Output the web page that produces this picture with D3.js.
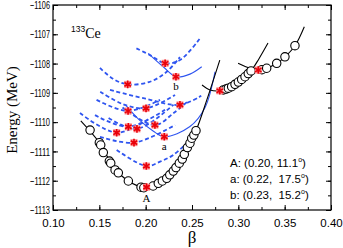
<!DOCTYPE html>
<html>
<head>
<meta charset="utf-8">
<script src="https://cdn.jsdelivr.net/npm/d3@7/dist/d3.min.js"></script>
<style>
  body { margin: 0; background: #fff; }
</style>
</head>
<body>
<div class="chart"></div>
<script>
// chart size
const width = 343;
const height = 248;
const margin = { top: 5, right: 12, bottom: 38, left: 53 };

const xTicks = [0.10, 0.15, 0.20, 0.25, 0.30, 0.35, 0.40];
const yTicks = [-1113, -1112, -1111, -1110, -1109, -1108, -1107, -1106];

// black TAC branches [beta, E]
const branch1Line = [[0.130, -1109.96], [0.150, -1110.70], [0.170, -1111.72], [0.200, -1112.23], [0.225, -1111.86], [0.245, -1110.90], [0.2545, -1110.28], [0.266, -1109.24], [0.280, -1107.88]];
const branch1Pts = [[0.140, -1110.27], [0.150, -1110.70], [0.1515, -1110.78], [0.1543, -1111.04], [0.1608, -1111.33], [0.1623, -1111.40], [0.167, -1111.63], [0.1705, -1111.73], [0.1813, -1112.01], [0.195, -1112.22], [0.198, -1112.24], [0.208, -1112.18], [0.2136, -1112.09], [0.218, -1112.01], [0.2227, -1111.92], [0.226, -1111.80], [0.2298, -1111.67], [0.2327, -1111.55], [0.2363, -1111.40], [0.2395, -1111.26], [0.2417, -1111.10], [0.245, -1110.87], [0.2478, -1110.72], [0.2497, -1110.55], [0.252, -1110.44], [0.2543, -1110.29]];
const branch2Line = [[0.2608, -1108.73], [0.2694, -1108.90], [0.280, -1108.93], [0.2928, -1108.79], [0.3072, -1108.45], [0.3137, -1108.25], [0.322, -1107.85], [0.332, -1107.30]];
const branch2Pts = [[0.2838, -1108.90], [0.2867, -1108.87], [0.2892, -1108.84], [0.2928, -1108.79], [0.2964, -1108.71], [0.300, -1108.63], [0.3036, -1108.54], [0.3072, -1108.45], [0.3107, -1108.34], [0.3137, -1108.25]];
const branch3Line = [[0.2997, -1107.99], [0.3126, -1108.16], [0.3215, -1108.22], [0.3306, -1108.16], [0.3414, -1107.99], [0.3503, -1107.77], [0.3611, -1107.39], [0.3712, -1106.74]];
const branch3Pts = [[0.3255, -1108.21], [0.3306, -1108.16], [0.3414, -1107.99], [0.3503, -1107.77], [0.3611, -1107.39]];

// blue PES curves at fixed gamma [beta, E]
const dashedCurves = [
  [[0.190, -1107.48], [0.2047, -1107.71], [0.221, -1107.99], [0.237, -1107.88], [0.2586, -1107.14]],
  [[0.1507, -1108.15], [0.1647, -1108.52], [0.1806, -1108.71], [0.2047, -1108.62], [0.2227, -1108.28], [0.237, -1107.78]],
  [[0.1615, -1108.90], [0.200, -1109.20], [0.237, -1109.41], [0.260, -1109.10]],
  [[0.151, -1108.96], [0.175, -1109.38], [0.2004, -1109.53], [0.2317, -1109.07]],
  [[0.147, -1109.24], [0.181, -1109.62], [0.2155, -1109.24]],
  [[0.1453, -1109.76], [0.1813, -1110.16], [0.2209, -1109.58]],
  [[0.160, -1109.86], [0.1906, -1110.23], [0.230, -1109.40]],
  [[0.175, -1109.50], [0.210, -1110.10], [0.2298, -1109.70], [0.245, -1109.30]],
  [[0.1291, -1109.69], [0.1687, -1110.36], [0.2047, -1109.86]],
  [[0.1507, -1110.50], [0.1874, -1110.70], [0.2317, -1110.10]],
  [[0.1687, -1110.95], [0.2007, -1111.50], [0.2155, -1111.35], [0.2298, -1111.12], [0.2478, -1110.61]]
];
const solidCurves = [
  [[0.178, -1109.40], [0.194, -1109.95], [0.208, -1110.30], [0.2201, -1110.50], [0.2478, -1110.15], [0.2641, -1109.50], [0.2748, -1108.28]],
  [[0.2028, -1107.65], [0.219, -1108.11], [0.2327, -1108.45], [0.2478, -1108.36], [0.2605, -1108.11]]
];

// minima (red stars)
const minima = [[0.221, -1107.99], [0.2327, -1108.45], [0.1806, -1108.71], [0.237, -1109.41], [0.2004, -1109.53], [0.181, -1109.62], [0.1813, -1110.16], [0.1906, -1110.23], [0.210, -1110.10], [0.1687, -1110.36], [0.1874, -1110.70], [0.2007, -1111.50], [0.2201, -1110.50], [0.201, -1112.22], [0.280, -1108.93], [0.3215, -1108.22]];

const pointNames = ["A", "a", "b"];
const pointPos = [[0.201, -1112.22], [0.2201, -1110.50], [0.2327, -1108.45]];
const legendNames = ["A", "a", "b"];
const legendBeta = ["0.20", "0.22", "0.23"];
const legendGamma = ["11.1", "17.5", "15.2"];

let x, y;

function setup() {
  const svg = d3.select('.chart')
    .append('svg')
    .attr('width', width)
    .attr('height', height)
    .style('display', 'block');

  x = d3.scaleLinear().domain([0.10, 0.40]).range([margin.left, width - margin.right]);
  y = d3.scaleLinear().domain([-1113, -1106]).range([height - margin.bottom, margin.top]);

  drawAxes(svg);
  drawCurves(svg);
  drawTexts(svg);
}

function drawAxes(svg) {
  const xMinor = d3.range(0.10, 0.401, 0.025);
  const yMinor = d3.range(-1113, -1105.9, 0.5);
  const inner = height - margin.bottom - margin.top;
  const innerW = width - margin.left - margin.right;

  svg.append('g')
    .attr('transform', `translate(0, ${height - margin.bottom})`)
    .call(d3.axisBottom(x).tickValues(xMinor).tickSize(-3).tickFormat(''));
  svg.append('g')
    .attr('transform', `translate(0, ${height - margin.bottom})`)
    .call(d3.axisBottom(x).tickValues(xTicks).tickSize(-5).tickPadding(9).tickFormat(d3.format('.2f')));
  svg.append('g')
    .attr('transform', `translate(0, ${margin.top})`)
    .call(d3.axisTop(x).tickValues(xMinor).tickSize(-3).tickFormat(''));
  svg.append('g')
    .attr('transform', `translate(0, ${margin.top})`)
    .call(d3.axisTop(x).tickValues(xTicks).tickSize(-5).tickFormat(''));

  svg.append('g')
    .attr('transform', `translate(${margin.left}, 0)`)
    .call(d3.axisLeft(y).tickValues(yMinor).tickSize(-3).tickFormat(''));
  svg.append('g')
    .attr('class', 'yleft')
    .attr('transform', `translate(${margin.left}, 0)`)
    .call(d3.axisLeft(y).tickValues(yTicks).tickSize(-5).tickPadding(3).tickFormat(d3.format('d')));
  svg.append('g')
    .attr('transform', `translate(${width - margin.right}, 0)`)
    .call(d3.axisRight(y).tickValues(yMinor).tickSize(-3).tickFormat(''));
  svg.append('g')
    .attr('transform', `translate(${width - margin.right}, 0)`)
    .call(d3.axisRight(y).tickValues(yTicks).tickSize(-5).tickFormat(''));

  svg.selectAll('.domain').remove();
  svg.selectAll('.tick line').attr('stroke', '#000').attr('stroke-width', 1);
  svg.selectAll('.tick text')
    .attr('fill', '#000')
    .style('font', '11.5px "Liberation Sans", Arial, sans-serif');
  svg.selectAll('.yleft .tick text')
    .attr('textLength', 20)
    .attr('lengthAdjust', 'spacingAndGlyphs');

  svg.append('rect')
    .attr('x', margin.left)
    .attr('y', margin.top)
    .attr('width', innerW)
    .attr('height', inner)
    .attr('fill', 'none')
    .attr('stroke', '#000')
    .attr('stroke-width', 1.2);
}

function drawCurves(svg) {
  const line = d3.line()
    .x(d => x(d[0]))
    .y(d => y(d[1]))
    .curve(d3.curveCatmullRom.alpha(0.5));

  const plot = svg.append('g');

  plot.selectAll('path.dash')
    .data(dashedCurves)
    .join('path')
      .attr('class', 'dash')
      .attr('d', line)
      .attr('fill', 'none')
      .attr('stroke', '#2f55f0')
      .attr('stroke-width', 1.8)
      .attr('stroke-dasharray', '4,2.6');

  plot.selectAll('path.solid')
    .data(solidCurves)
    .join('path')
      .attr('class', 'solid')
      .attr('d', line)
      .attr('fill', 'none')
      .attr('stroke', '#2f55f0')
      .attr('stroke-width', 1.1);

  plot.selectAll('path.black')
    .data([branch1Line, branch2Line, branch3Line])
    .join('path')
      .attr('class', 'black')
      .attr('d', line)
      .attr('fill', 'none')
      .attr('stroke', '#000')
      .attr('stroke-width', 1.1);

  plot.selectAll('circle')
    .data(branch1Pts.concat(branch2Pts, branch3Pts))
    .join('circle')
      .attr('cx', d => x(d[0]))
      .attr('cy', d => y(d[1]))
      .attr('r', 4.2)
      .attr('fill', '#fff')
      .attr('stroke', '#000')
      .attr('stroke-width', 1.1);

  const stars = plot.selectAll('g.star')
    .data(minima)
    .join('g')
      .attr('class', 'star')
      .attr('transform', d => `translate(${x(d[0])}, ${y(d[1])})`);
  stars.append('rect')
    .attr('x', -3.5).attr('y', -3.5)
    .attr('width', 7).attr('height', 7)
    .attr('fill', '#ff8a8a');
  stars.append('path')
    .attr('d', d3.symbol(d3.symbolAsterisk, 40))
    .attr('stroke', '#e8000a')
    .attr('stroke-width', 1.6)
    .attr('fill', 'none');
}

function drawTexts(svg) {
  const serif = '"Liberation Serif", "Times New Roman", serif';
  const sans = '"Liberation Sans", Arial, sans-serif';

  svg.append('text')
    .attr('x', 192)
    .attr('y', 243)
    .attr('text-anchor', 'middle')
    .style('font', `17px ${serif}`)
    .text('β');

  svg.append('text')
    .attr('transform', 'translate(17, 110) rotate(-90)')
    .attr('text-anchor', 'middle')
    .style('font', `15px ${serif}`)
    .text('Energy (MeV)');

  const nucl = svg.append('text').attr('x', 71).attr('y', 38);
  nucl.append('tspan').attr('dy', -6).style('font', `8.5px ${sans}`).text('133');
  nucl.append('tspan').attr('dy', 6).style('font', `14px ${serif}`).text('Ce');

  svg.selectAll('text.pname')
    .data(pointNames)
    .join('text')
      .attr('class', 'pname')
      .attr('x', (d, i) => x(pointPos[i][0]))
      .attr('y', (d, i) => y(pointPos[i][1]) + (i === 0 ? 15 : 13))
      .attr('text-anchor', 'middle')
      .style('font', `11px ${serif}`)
      .text(d => d);

  const legend = svg.selectAll('text.leg')
    .data(legendNames)
    .join('text')
      .attr('class', 'leg')
      .attr('x', 230)
      .attr('y', (d, i) => 167 + i * 16)
      .style('font', `11.5px ${sans}`)
      .attr('xml:space', 'preserve');
  legend.append('tspan').text((d, i) => `${d}: (${legendBeta[i]},${i === 0 ? ' ' : '  '}${legendGamma[i]}`);
  legend.append('tspan').attr('dy', -5).style('font-size', '7px').text('o');
  legend.append('tspan').attr('dy', 5).text(')');
}

setup();
</script>
</body>
</html>
